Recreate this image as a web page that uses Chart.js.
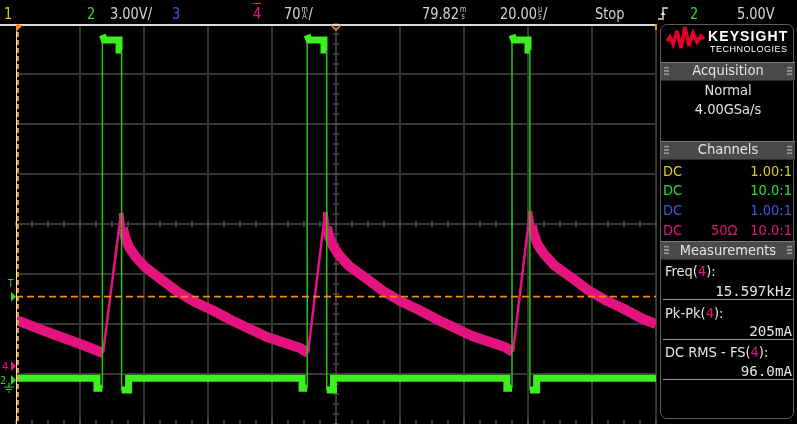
<!DOCTYPE html>
<html>
<head>
<meta charset="utf-8">
<script src="https://cdn.jsdelivr.net/npm/chart.js@4.4.1/dist/chart.umd.min.js"></script>
<style>
html,body{margin:0;padding:0;background:#000;}
#stage{position:relative;width:797px;height:424px;overflow:hidden;background:#000;}
#c{position:absolute;left:0;top:0;}
#overlay{position:absolute;left:0;top:0;width:797px;height:424px;}
.tx{position:absolute;white-space:nowrap;line-height:1;font-family:"Liberation Sans Narrow","DejaVu Sans Condensed","Liberation Sans",Arial,sans-serif;}
.top{transform:scaleX(0.9);transform-origin:0 0;}
.mono{font-family:"DejaVu Sans Mono","Liberation Mono",monospace;}
.stk{display:inline-block;font-size:8px;line-height:7px;vertical-align:baseline;margin:0 1px 0 1px;text-align:center;}
.stk i{display:block;font-style:normal;}
.band{position:absolute;left:661px;width:134px;height:17px;background:#4a4a4a;border-top:1px solid #7a7a7a;border-bottom:1px solid #2a2a2a;}
.grip{position:absolute;width:5px;height:10px;top:4px;background-image:radial-gradient(circle,#a0a0a0 0.9px,transparent 1.1px);background-size:2.5px 3.3px;}
.sep{position:absolute;left:663px;width:131px;height:1px;background:#9a9a9a;}
</style>
</head>
<body>
<div id="stage">
<canvas id="c" width="797" height="424"></canvas>
<div id="overlay"></div>
</div>
<script>
// ---------------- scope settings ----------------
const timePerDivUs = 20;          // 20.00 us/div
const ch2VoltsPerDiv = 3.0;       // channel 2: 3.00 V/div
const ch2OffsetDiv = -3.12;       // channel 2 ground marker position (divisions from centre)
const ch4mAPerDiv = 70;           // channel 4: 70 mA/div
const ch4OffsetDiv = -2.84;       // channel 4 ground marker position (divisions from centre)
const triggerLevelVolts = 5.0;    // trigger on channel 2 at 5.00 V

// ---------------- channel 2 (green) : gate pulses, volts ----------------
const greenTimeUs = [
  -100, -74.7, -74.7, -73.0, -73.0, -72.4, -67.8, -67.8, -67.0, -67.0, -64.8, -64.8,
  -10.6, -10.6, -9.0, -9.0, -8.4, -3.75, -3.75, -2.9, -2.9, -0.8, -0.8,
  53.4, 53.4, 55.0, 55.0, 55.6, 60.0, 60.0, 60.6, 60.6, 62.7, 62.7,
  100
];
const greenVolts = [
  0.1, 0.1, -0.5, -0.5, 20.7, 20.4, 20.4, 19.8, 19.8, -0.6, -0.6, 0.1,
  0.1, -0.5, -0.5, 20.7, 20.4, 20.4, 19.8, 19.8, -0.6, -0.6, 0.1,
  0.1, -0.5, -0.5, 20.7, 20.4, 20.4, 19.8, 19.8, -0.6, -0.6, 0.1,
  0.1
];

// ---------------- channel 4 (pink) : current, mA ----------------
const pinkTimeUs = [
  -100, -89.4, -79.1, -72.8, -67.2, -66.6, -65.9, -64.7, -62.8, -59.7, -54.4, -49.4, -44.1, -38.75, -32.2, -21.6, -11.25, -8.75,
  -3.4, -2.8, -2.2, -0.9, 0.9, 4.1, 9.7, 14.7, 20, 25.3, 31.9, 42.5, 52.8, 55.3,
  60.6, 61.25, 61.9, 63.1, 65, 68.1, 73.75, 78.75, 84.1, 89.4, 95.9, 100
];
const pinkMilliamps = [
  64.4, 46.2, 29.4, 18.2, 214.2, 193.2, 180.6, 166.6, 154, 138.6, 120.4, 103.6, 89.6, 78.4, 63, 40.6, 25.2, 18.2,
  215.6, 194.6, 182, 168, 155.4, 140, 121.8, 105, 91, 79.8, 64.4, 42, 26.6, 19.6,
  217, 196, 183.4, 169.4, 156.8, 141.4, 123.2, 106.4, 92.4, 81.2, 65.8, 58.8
];

const ORANGE = '#ef8a1d';
const GREEN = '#3cf01f';
const GREEN_EDGE = '#2cc418';
const PINK = '#e4137f';

const scopePlugin = {
  id: 'scope',
  beforeDatasetsDraw(chart) {
    const {ctx, chartArea: a} = chart;
    const dx = a.width / 10, dy = a.height / 8;
    ctx.save();
    ctx.strokeStyle = '#363636';
    ctx.lineWidth = 2;
    ctx.beginPath();
    for (let i = 1; i <= 10; i++) { const x = Math.round(a.left + i * dx); ctx.moveTo(x, a.top); ctx.lineTo(x, a.bottom); }
    for (let j = 1; j < 8; j++) { const y = Math.round(a.top + j * dy); ctx.moveTo(a.left, y); ctx.lineTo(a.right, y); }
    ctx.stroke();
    const cx = Math.round(a.left + 5 * dx), cy = Math.round(a.top + 4 * dy);
    ctx.strokeStyle = '#4e4e4e';
    ctx.lineWidth = 1.5;
    ctx.beginPath();
    for (let k = 0; k <= 40; k++) {
      const x = Math.round(a.left + k * dx / 4);
      ctx.moveTo(x, cy - 3); ctx.lineTo(x, cy + 3);
      ctx.moveTo(x, a.bottom - 4); ctx.lineTo(x, a.bottom);
    }
    for (let k = 0; k <= 40; k++) {
      const y = Math.round(a.top + k * dy / 5);
      ctx.moveTo(cx - 3, y); ctx.lineTo(cx + 3, y);
    }
    ctx.stroke();
    ctx.restore();
  },
  afterDatasetsDraw(chart) {
    const {ctx, chartArea: a, scales} = chart;
    ctx.save();
    ctx.fillStyle = '#dadada';
    ctx.fillRect(0, a.top, a.right + 1, 2);
    ctx.fillStyle = '#e6e6e6';
    ctx.fillRect(a.left, a.top, 1, a.height);
    ctx.strokeStyle = ORANGE;
    ctx.lineWidth = 2;
    ctx.setLineDash([5, 3]);
    ctx.beginPath(); ctx.moveTo(a.left + 2, a.top); ctx.lineTo(a.left + 2, a.bottom); ctx.stroke();
    ctx.setLineDash([]);
    ctx.fillStyle = ORANGE;
    ctx.beginPath(); ctx.moveTo(a.left, a.top + 1); ctx.lineTo(a.left + 7, a.top + 1); ctx.lineTo(a.left, a.top + 8); ctx.closePath(); ctx.fill();
    ctx.fillRect(a.right - 1, a.top, 2, 6);
    const x0 = scales.x.getPixelForValue(0);
    ctx.strokeStyle = ORANGE; ctx.lineWidth = 1.6;
    ctx.beginPath(); ctx.moveTo(x0 - 5, a.top + 1); ctx.lineTo(x0, a.top + 6); ctx.lineTo(x0 + 5, a.top + 1); ctx.stroke();
    const tri = (yy, col) => {
      ctx.fillStyle = col;
      ctx.beginPath(); ctx.moveTo(a.left - 5, yy - 5); ctx.lineTo(a.left, yy); ctx.lineTo(a.left - 5, yy + 5); ctx.closePath(); ctx.fill();
    };
    tri(scales.yV.getPixelForValue(triggerLevelVolts), '#32d81c');
    tri(scales.yI.getPixelForValue(0), PINK);
    tri(scales.yV.getPixelForValue(0), '#32d81c');
    const g = scales.yV.getPixelForValue(0);
    ctx.strokeStyle = '#32d81c'; ctx.lineWidth = 1.2;
    ctx.beginPath();
    ctx.moveTo(9, g + 3); ctx.lineTo(9, g + 7);
    ctx.moveTo(4, g + 7); ctx.lineTo(14, g + 7);
    ctx.moveTo(6, g + 9.5); ctx.lineTo(12, g + 9.5);
    ctx.moveTo(8, g + 12); ctx.lineTo(10, g + 12);
    ctx.stroke();
    ctx.restore();
  }
};

const chart = new Chart(document.getElementById('c'), {
  type: 'line',
  data: {
    datasets: [
      {
        label: 'Trigger level',
        data: [{x: -5 * timePerDivUs, y: triggerLevelVolts}, {x: 5 * timePerDivUs, y: triggerLevelVolts}],
        yAxisID: 'yV', borderColor: ORANGE, borderWidth: 1.6, borderDash: [7, 4], pointRadius: 0, order: 0
      },
      {
        label: 'Channel 2',
        data: greenTimeUs.map((t, i) => ({x: t, y: greenVolts[i]})),
        yAxisID: 'yV', borderColor: GREEN, borderWidth: 7, pointRadius: 0, order: 1,
        segment: {
          borderWidth: c => Math.abs(c.p1.parsed.y - c.p0.parsed.y) > 3 ? 1.5 : 7,
          borderColor: c => Math.abs(c.p1.parsed.y - c.p0.parsed.y) > 3 ? GREEN_EDGE : GREEN
        }
      },
      {
        label: 'Channel 4',
        data: pinkTimeUs.map((t, i) => ({x: t, y: pinkMilliamps[i]})),
        yAxisID: 'yI', borderColor: PINK, borderWidth: 10, pointRadius: 0, order: 2,
        borderJoinStyle: 'round',
        segment: {
          borderWidth: c => {
            const slope = (c.p1.parsed.y - c.p0.parsed.y) / Math.max(1e-6, c.p1.parsed.x - c.p0.parsed.x);
            if (slope > 10) return 2.5;   // fast rising edge: thin trace
            if (slope < -25) return 5;    // first instant after the peak
            return 10;                    // noisy slow slopes: wide band
          }
        }
      }
    ]
  },
  options: {
    responsive: false,
    animation: false,
    devicePixelRatio: 1,
    layout: {padding: {left: 16, right: 141, top: 24, bottom: 0}},
    plugins: {legend: {display: false}, tooltip: {enabled: false}},
    scales: {
      x: {type: 'linear', display: false, min: -5 * timePerDivUs, max: 5 * timePerDivUs},
      yV: {type: 'linear', display: false, min: (-4 - ch2OffsetDiv) * ch2VoltsPerDiv, max: (4 - ch2OffsetDiv) * ch2VoltsPerDiv},
      yI: {type: 'linear', display: false, min: (-4 - ch4OffsetDiv) * ch4mAPerDiv, max: (4 - ch4OffsetDiv) * ch4mAPerDiv}
    }
  },
  plugins: [scopePlugin]
});

// ---------------- overlay text ----------------
const overlay = document.getElementById('overlay');
function T(html, x, base, size, color, align, cls, extra) {
  const s = document.createElement('span');
  s.className = 'tx' + (cls ? ' ' + cls : '');
  s.innerHTML = html;
  s.style.fontSize = size + 'px';
  s.style.color = color;
  s.style.top = (base - 0.85 * size) + 'px';
  if (align === 'right') s.style.right = (797 - x) + 'px';
  else if (align === 'center') { s.style.left = x + 'px'; s.style.transform = 'translateX(-50%)'; }
  else s.style.left = x + 'px';
  if (extra) Object.assign(s.style, extra);
  overlay.appendChild(s);
  return s;
}
function div(cls, style) {
  const d = document.createElement('div');
  d.className = cls;
  Object.assign(d.style, style);
  overlay.appendChild(d);
  return d;
}
const stk = (a, b) => '<span class="stk"><i>' + a + '</i><i>' + b + '</i></span>';

// top status bar
const TB = 19.5, GRAY = '#d4d4d4';
T('1', 4, TB, 16, '#d2c810', null, 'top');
T('2', 87, TB, 16, '#2ee02a', null, 'top');
T('3.00V/', 110, TB, 16, GRAY, null, 'top');
T('3', 172, TB, 16, '#3b55e6', null, 'top');
T('4', 253, TB, 16, '#e4137f', null, 'top', {textDecoration: 'overline'});
T('70' + stk('m', 'A') + '/', 284, TB, 16, GRAY, null, 'top');
T('79.82' + stk('m', 's'), 422, TB, 16, GRAY, null, 'top');
T('20.00' + stk('µ', 's') + '/', 500, TB, 16, GRAY, null, 'top');
T('Stop', 595, TB, 16, GRAY, null, 'top');
T('2', 690, TB, 16, '#2ee02a', null, 'top');
T('5.00V', 737, TB, 16, GRAY, null, 'top');
overlay.insertAdjacentHTML('beforeend',
  '<svg style="position:absolute;left:656px;top:5px" width="14" height="17" viewBox="0 0 14 17">' +
  '<path d="M2 14 H7 V3 H12" stroke="#e0e0e0" stroke-width="1.4" fill="none"/>' +
  '<path d="M4.5 10 L7 6.5 L9.5 10 Z" fill="#e0e0e0"/></svg>');

// left markers
const sc = chart.scales;
T('T', 8, sc.yV.getPixelForValue(triggerLevelVolts) - 9, 10, '#32d81c');
T('4', 2, sc.yI.getPixelForValue(0) + 4, 11, '#e4137f');
T('2', 0, sc.yV.getPixelForValue(0) + 4, 11, '#32d81c');

// right panel
div('', {position: 'absolute', left: '660px', top: '24px', width: '134px', height: '395px', border: '1.5px solid #5e5e5e', borderRadius: '7px', boxSizing: 'border-box'});
overlay.insertAdjacentHTML('beforeend',
  '<svg style="position:absolute;left:664px;top:24px" width="44" height="28" viewBox="664 24 44 28">' +
  '<polyline points="667,41 670,37 673,44 677,31 681,48 685,27 689,46 693,33 697,42 701,36 704,39" ' +
  'stroke="#e4002b" stroke-width="3.6" fill="none" stroke-linejoin="miter" stroke-miterlimit="3"/></svg>');
T('KEYSIGHT', 708, 40.5, 14, '#ffffff', null, null, {fontFamily: '"Liberation Sans",Arial,sans-serif', fontWeight: 'bold', letterSpacing: '1.1px'});
T('TECHNOLOGIES', 710, 52.5, 9, '#ffffff', null, null, {fontFamily: '"Liberation Sans",Arial,sans-serif', letterSpacing: '0.5px'});

function band(top, label, base) {
  div('band', {top: top + 'px'});
  div('grip', {left: '664px', top: (top + 4) + 'px'});
  div('grip', {left: '787px', top: (top + 4) + 'px'});
  T(label, 728, base, 14.5, '#e4e4e4', 'center');
}
band(62, 'Acquisition', 75.5);
T('Normal', 728, 95, 14.5, '#e0e0e0', 'center');
T('4.00GSa/s', 728, 114.5, 14.5, '#e0e0e0', 'center');

band(141, 'Channels', 154.5);
const chRows = [
  ['#d8cc10', '1.00:1', '', 176.5],
  ['#2ee02a', '10.0:1', '', 195.5],
  ['#3b55e6', '1.00:1', '', 215.5],
  ['#e4137f', '10.0:1', '50Ω', 235]
];
chRows.forEach(r => {
  T('DC', 663, r[3], 14.5, r[0]);
  T(r[1], 792, r[3], 14.5, r[0], 'right');
  if (r[2]) T(r[2], 711, r[3], 14.5, r[0]);
});

band(241, 'Measurements', 255);
const P = '<span style="color:#e4137f">4</span>';
T('Freq(' + P + '):', 665, 276.5, 14.5, '#e6e6e6');
T('15.597kHz', 792, 296, 14.2, '#e6e6e6', 'right', 'mono');
div('sep', {top: '299px'});
T('Pk-Pk(' + P + '):', 665, 318, 14.5, '#e6e6e6');
T('205mA', 792, 336, 14.2, '#e6e6e6', 'right', 'mono');
div('sep', {top: '339px'});
T('DC RMS - FS(' + P + '):', 665, 357, 14.5, '#e6e6e6');
T('96.0mA', 792, 376, 14.2, '#e6e6e6', 'right', 'mono');
div('sep', {top: '379px'});
</script>
</body>
</html>
